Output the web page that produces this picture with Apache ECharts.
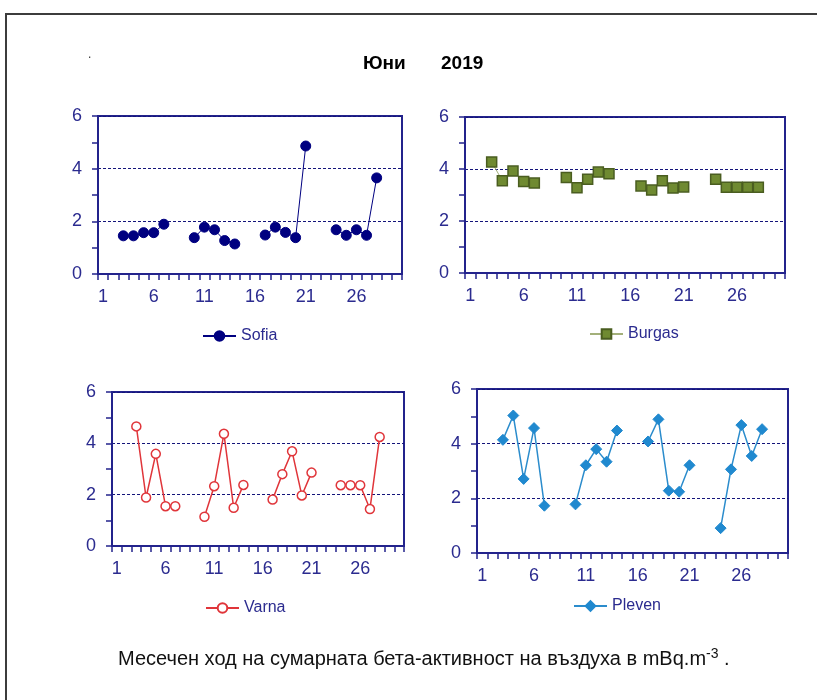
<!DOCTYPE html>
<html>
<head>
<meta charset="utf-8">
<script src="https://cdn.jsdelivr.net/npm/echarts@6/dist/echarts.min.js"></script>
<style>
  html, body { margin: 0; padding: 0; background: #ffffff; }
  #chart { width: 817px; height: 700px; }
</style>
</head>
<body>
<div id="chart"></div>
<script>
// Days of June 2019
const days = ['1','2','3','4','5','6','7','8','9','10','11','12','13','14','15',
              '16','17','18','19','20','21','22','23','24','25','26','27','28','29','30'];

// Total beta activity of air, mBq.m-3 (null = no measurement)
const sofia  = [null,null,1.45,1.45,1.57,1.57,1.89,null,null,1.38,1.78,1.68,1.27,1.14,null,
                null,1.48,1.78,1.58,1.38,4.86,null,null,1.68,1.47,1.68,1.47,3.65,null,null];
const burgas = [null,null,4.27,3.55,3.92,3.52,3.46,null,null,3.67,3.28,3.61,3.88,3.82,null,
                null,3.35,3.19,3.55,3.27,3.31,null,null,3.61,3.30,3.30,3.30,3.30,null,null];
const varna  = [null,null,4.66,1.89,3.59,1.55,1.55,null,null,1.14,2.33,4.37,1.49,2.38,null,
                null,1.81,2.80,3.69,1.97,2.86,null,null,2.37,2.37,2.37,1.44,4.25,null,null];
const pleven = [null,null,4.14,5.03,2.71,4.57,1.73,null,null,1.78,3.21,3.80,3.34,4.48,null,
                null,4.08,4.89,2.28,2.24,3.21,null,null,0.91,3.06,4.68,3.55,4.53,null,null];

const yMin = 0, yMax = 6, yStep = 2;

const FONT = "'Liberation Sans', Arial, sans-serif";
const AXIS = '#23238c';
const LABEL = '#2b2b8f';

const grids = [
  { left: 98,  top: 116, width: 304, height: 158 },
  { left: 465, top: 117, width: 320, height: 156 },
  { left: 112, top: 392, width: 292, height: 154 },
  { left: 477, top: 389, width: 311, height: 164 }
];

const panels = [
  { name: 'Sofia',  data: sofia,  color: '#000080', symbol: 'circle',  size: 10,
    itemStyle: { color: '#000080', borderColor: '#000080', borderWidth: 1 }, lineColor: '#000080', lineWidth: 1,
    legend: { left: 202, top: 328 } },
  { name: 'Burgas', data: burgas, color: '#6f8a31', symbol: 'rect',    size: 10,
    itemStyle: { color: '#6f8a31', borderColor: '#4a5d20', borderWidth: 1.5 }, lineColor: '#a3b07a', lineWidth: 1,
    legend: { left: 589, top: 326 } },
  { name: 'Varna',  data: varna,  color: '#e0353a', symbol: 'circle',  size: 9,
    itemStyle: { color: '#ffffff', borderColor: '#e0353a', borderWidth: 1.5 }, lineColor: '#e0353a', lineWidth: 1.5,
    legend: { left: 205, top: 600 } },
  { name: 'Pleven', data: pleven, color: '#2089cf', symbol: 'diamond', size: 11,
    itemStyle: { color: '#2089cf', borderColor: '#2089cf', borderWidth: 1 }, lineColor: '#2b8ccc', lineWidth: 1.5,
    legend: { left: 573, top: 598 } }
];

const option = {
  backgroundColor: '#ffffff',
  animation: false,
  grid: grids.map(g => Object.assign({
    show: true, borderColor: AXIS, borderWidth: 2, backgroundColor: 'transparent'
  }, g)),
  xAxis: grids.map((g, i) => ({
    type: 'category',
    gridIndex: i,
    data: days,
    boundaryGap: true,
    axisLine: { show: true, lineStyle: { color: AXIS, width: 2 } },
    axisTick: { show: true, interval: 0, length: 6, lineStyle: { color: AXIS, width: 1.5 } },
    axisLabel: { interval: 4, margin: 14, color: LABEL, fontSize: 18, fontFamily: FONT },
    splitLine: { show: false }
  })),
  yAxis: grids.map((g, i) => ({
    type: 'value',
    gridIndex: i,
    min: yMin, max: yMax, interval: yStep,
    axisLine: { show: true, lineStyle: { color: AXIS, width: 2 } },
    axisTick: { show: true, length: 6, lineStyle: { color: AXIS, width: 1.5 } },
    minorTick: { show: true, splitNumber: 2, length: 6, lineStyle: { color: AXIS, width: 1.5 } },
    axisLabel: { margin: 16, color: LABEL, fontSize: 18, fontFamily: FONT },
    splitLine: { show: true, lineStyle: { color: '#14147a', width: 1, type: [3, 2] } }
  })),
  legend: panels.map(p => ({
    data: [p.name],
    left: p.legend.left,
    top: p.legend.top,
    orient: 'horizontal',
    padding: 0,
    itemWidth: 33,
    itemHeight: 12,
    textStyle: { color: LABEL, fontSize: 16, fontFamily: FONT },
    selectedMode: false
  })),
  series: panels.map((p, i) => ({
    type: 'line',
    name: p.name,
    xAxisIndex: i,
    yAxisIndex: i,
    data: p.data,
    connectNulls: false,
    symbol: p.symbol,
    symbolSize: p.size,
    showAllSymbol: true,
    color: p.color,
    itemStyle: p.itemStyle,
    lineStyle: { color: p.lineColor, width: p.lineWidth },
    emphasis: { disabled: true }
  })),
  graphic: [
    { type: 'rect', shape: { x: 6, y: 14, width: 900, height: 800 },
      style: { fill: 'none', stroke: '#3c3c3c', lineWidth: 2 }, silent: true },
    { type: 'text', left: 88, top: 49,
      style: { text: '.', fill: '#333', font: '12px ' + FONT } },
    { type: 'text', left: 363, top: 54,
      style: { text: 'Юни', fill: '#000', font: 'bold 19px ' + FONT } },
    { type: 'text', left: 441, top: 54,
      style: { text: '2019', fill: '#000', font: 'bold 19px ' + FONT } },
    { type: 'text', left: 118, top: 647,
      style: {
        text: 'Месечен ход на сумарната бета-активност на въздуха в mBq.m{sup|-3} .',
        fill: '#111', font: '20px ' + FONT,
        rich: {
          sup: { fontSize: 14, fontFamily: FONT, fill: '#111', verticalAlign: 'top', lineHeight: 14 }
        },
        lineHeight: 25
      } }
  ]
};

const chart = echarts.init(document.getElementById('chart'), null, { renderer: 'canvas' });
chart.setOption(option);
</script>
</body>
</html>
